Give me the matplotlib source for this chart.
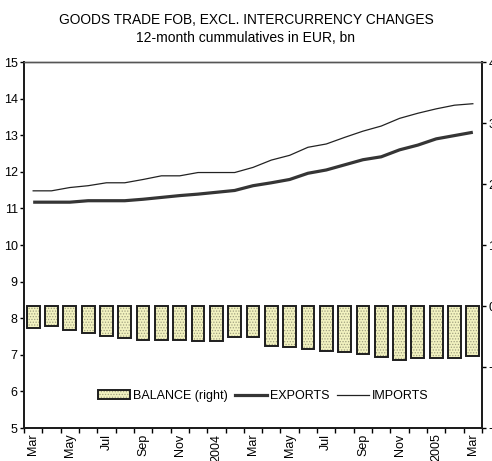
import matplotlib.pyplot as plt
from matplotlib.patches import Patch
from matplotlib.lines import Line2D
import numpy as np

plt.rcParams["font.family"] = ["Liberation Sans", "DejaVu Sans"]
plt.rcParams["hatch.linewidth"] = 0.6

# 12-month cumulatives, EUR bn, Mar 2003 - Mar 2005
months = ["Mar", "Apr", "May", "Jun", "Jul", "Aug", "Sep", "Oct", "Nov", "Dec",
          "2004", "Feb", "Mar", "Apr", "May", "Jun", "Jul", "Aug", "Sep", "Oct",
          "Nov", "Dec", "2005", "Feb", "Mar"]
exports = [11.17, 11.17, 11.17, 11.21, 11.21, 11.21, 11.25, 11.30, 11.35, 11.39,
           11.44, 11.49, 11.62, 11.70, 11.79, 11.96, 12.05, 12.19, 12.33, 12.41,
           12.60, 12.73, 12.90, 12.99, 13.08]
imports = [11.48, 11.48, 11.57, 11.62, 11.70, 11.70, 11.79, 11.89, 11.89, 11.98,
           11.98, 11.98, 12.12, 12.32, 12.45, 12.67, 12.76, 12.94, 13.11, 13.25,
           13.46, 13.60, 13.72, 13.82, 13.86]
balance = [-0.36, -0.33, -0.39, -0.44, -0.49, -0.52, -0.55, -0.55, -0.55, -0.57,
           -0.57, -0.51, -0.51, -0.65, -0.68, -0.70, -0.73, -0.75, -0.78, -0.83,
           -0.89, -0.86, -0.86, -0.86, -0.82]

x = np.arange(len(months))

fig = plt.figure(figsize=(4.92, 4.61), dpi=100)
ax = fig.add_axes([24 / 492, 33 / 461, 458 / 492, 366 / 461])
ax2 = ax.twinx()

# balance bars on the right-hand scale
ax2.bar(x, balance, width=0.7, color="#f2f2c0", edgecolor="#a0a080",
        hatch="......", linewidth=0, zorder=1)
ax2.bar(x, balance, width=0.7, fill=False, edgecolor="#1e1e1e",
        linewidth=1.4, zorder=2)
ax2.set_ylim(-2, 4)
ax2.set_yticks(range(-2, 5))

ax.set_zorder(ax2.get_zorder() + 1)
ax.patch.set_visible(False)
ax.plot(x, exports, color="#353535", linewidth=2.3, solid_capstyle="butt")
ax.plot(x, imports, color="#222222", linewidth=0.9)
ax.set_ylim(5, 15)
ax.set_yticks(range(5, 16))
ax.set_xlim(-0.5, len(months) - 0.5)

# ticks between months, labels on every other month
ax.set_xticks(np.arange(-0.5, len(months), 1.0))
ax.set_xticklabels([])
ax.set_xticks(x[::2], minor=True)
ax.set_xticklabels(months[::2], minor=True, rotation=90, fontsize=9)
ax.tick_params(axis="x", which="minor", length=0, pad=4)
ax.tick_params(axis="x", which="major", length=3.5, width=1, direction="out")
ax.tick_params(axis="y", length=3, width=1, pad=1.5, labelsize=9)
ax2.tick_params(axis="y", length=3, width=1, pad=1.5, labelsize=9)

for a in (ax, ax2):
    for side in ("left", "bottom", "right"):
        a.spines[side].set_linewidth(1.4)
        a.spines[side].set_color("#1e1e1e")
    a.spines["top"].set_linewidth(1.0)
    a.spines["top"].set_color("#555555")

fig.text(0.5, 0.956, "GOODS TRADE FOB, EXCL. INTERCURRENCY CHANGES",
         ha="center", va="center", fontsize=9.9)
fig.text(0.5, 0.917, "12-month cummulatives in EUR, bn",
         ha="center", va="center", fontsize=10)

handles = [(Patch(facecolor="#f2f2c0", edgecolor="#a0a080", hatch="......", linewidth=0),
            Patch(fill=False, edgecolor="#1e1e1e", linewidth=1.4)),
           Line2D([], [], color="#353535", linewidth=2.3),
           Line2D([], [], color="#222222", linewidth=0.9)]
ax.legend(handles, ["BALANCE (right)", "EXPORTS", "IMPORTS"], ncol=3,
          loc="center", bbox_to_anchor=(0.522, 0.087), frameon=False,
          fontsize=9, handlelength=2.6, handletextpad=0.2, columnspacing=0.6)

plt.savefig("out.png", dpi=100)
